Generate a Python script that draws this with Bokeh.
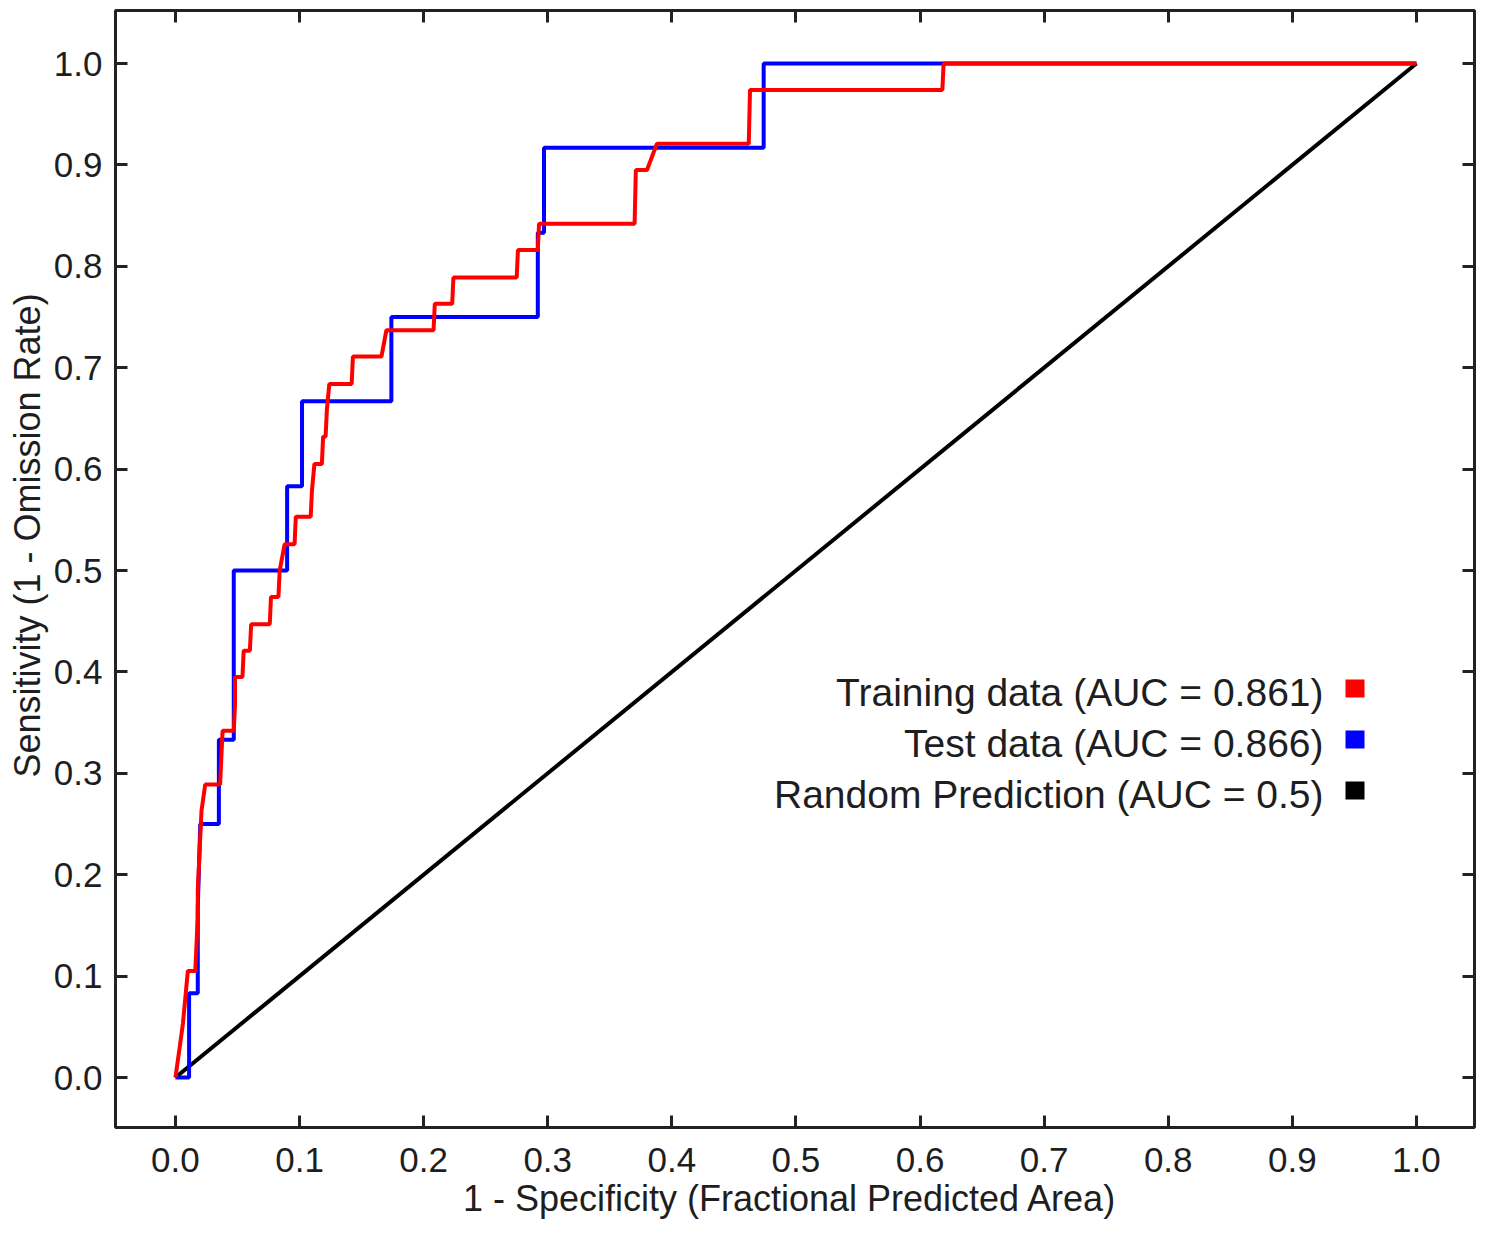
from bokeh.plotting import figure
from bokeh.models import (Range1d, FixedTicker, LinearAxis, PrintfTickFormatter,
                          Label, BoxAnnotation, Title)
from bokeh.embed import file_html
from bokeh.resources import INLINE

# ---------------- data ----------------
train_fpr = [0.000, 0.003, 0.006, 0.008, 0.010, 0.016, 0.017, 0.018, 0.018, 0.019,
             0.020, 0.021, 0.024, 0.036, 0.037, 0.038, 0.047, 0.048, 0.048, 0.054,
             0.055, 0.060, 0.061, 0.076, 0.077, 0.083, 0.084, 0.088, 0.096, 0.097,
             0.109, 0.110, 0.112, 0.118, 0.119, 0.121, 0.122, 0.124, 0.142, 0.143,
             0.166, 0.170, 0.208, 0.209, 0.223, 0.224, 0.275, 0.276, 0.292, 0.293,
             0.370, 0.371, 0.380, 0.388, 0.462, 0.463, 0.618, 0.619, 1.000]
train_tpr = [0.000, 0.026, 0.053, 0.079, 0.105, 0.105, 0.132, 0.158, 0.184, 0.211,
             0.237, 0.263, 0.289, 0.289, 0.316, 0.342, 0.342, 0.368, 0.395, 0.395,
             0.421, 0.421, 0.447, 0.447, 0.474, 0.474, 0.500, 0.526, 0.526, 0.553,
             0.553, 0.579, 0.605, 0.605, 0.632, 0.632, 0.658, 0.684, 0.684, 0.711,
             0.711, 0.737, 0.737, 0.763, 0.763, 0.789, 0.789, 0.816, 0.816, 0.842,
             0.842, 0.895, 0.895, 0.921, 0.921, 0.974, 0.974, 1.000, 1.000]

test_fpr = [0.000, 0.011, 0.011, 0.018, 0.018, 0.020, 0.035, 0.035, 0.047, 0.047,
            0.090, 0.090, 0.102, 0.102, 0.174, 0.174, 0.292, 0.292, 0.297, 0.297,
            0.474, 0.474, 1.000]
test_tpr = [0.000, 0.000, 0.083, 0.083, 0.167, 0.250, 0.250, 0.333, 0.333, 0.500,
            0.500, 0.583, 0.583, 0.667, 0.667, 0.750, 0.750, 0.833, 0.833, 0.917,
            0.917, 1.000, 1.000]

random_fpr = [0.0, 1.0]
random_tpr = [0.0, 1.0]

tick_values = [0.0, 0.1, 0.2, 0.3, 0.4, 0.5, 0.6, 0.7, 0.8, 0.9, 1.0]

legend_labels = ["Training data (AUC = 0.861)",
                 "Test data (AUC = 0.866)",
                 "Random Prediction (AUC = 0.5)"]
series_colors = ["#ff0000", "#0000ff", "#000000"]

x_label = "1 - Specificity  (Fractional Predicted Area)"
y_label = "Sensitivity  (1 - Omission Rate)"

# ---------------- figure ----------------
FONT = "Liberation Sans"
TXT = "#1e1e1e"

p = figure(width=1476, height=1224,
           x_range=Range1d(-0.0483, 1.0468), y_range=Range1d(-0.0493, 1.0523),
           output_backend="svg", toolbar_location=None,
           min_border_left=115, min_border_right=2, min_border_top=10,
           min_border_bottom=97, x_axis_type=None, y_axis_type=None)
p.background_fill_color = "white"
p.border_fill_color = "white"
p.outline_line_color = "#222222"
p.outline_line_width = 3

ticker = FixedTicker(ticks=tick_values)


def style_axis(ax, show_labels):
    ax.ticker = ticker
    ax.axis_line_color = None
    ax.major_tick_in = 12
    ax.major_tick_out = 0
    ax.major_tick_line_color = "#222222"
    ax.major_tick_line_width = 3
    ax.minor_tick_line_color = None
    if show_labels:
        ax.formatter = PrintfTickFormatter(format="%.1f")
        ax.major_label_text_font = FONT
        ax.major_label_text_font_size = "35px"
        ax.major_label_text_color = TXT
        ax.axis_label_text_font = FONT
        ax.axis_label_text_font_size = "36px"
        ax.axis_label_text_font_style = "normal"
        ax.axis_label_text_color = TXT
    else:
        # mirror axis: tick marks only, labels are not drawn
        ax.major_label_text_font_size = "1px"
        ax.major_label_text_color = None
        ax.major_label_standoff = 0
        ax.axis_label_standoff = 0


xb = LinearAxis(axis_label=x_label)
style_axis(xb, True)
xb.major_label_standoff = 20
xb.axis_label_standoff = 3
p.add_layout(xb, "below")

yl = LinearAxis()
style_axis(yl, True)
yl.major_label_standoff = 13
p.add_layout(yl, "left")

# y-axis title (side title so it can sit slightly above centre, like the original)
p.add_layout(Title(text=y_label, align="left", offset=350, standoff=6,
                   vertical_align="bottom",
                   text_font=FONT, text_font_size="36px", text_font_style="normal",
                   text_color=TXT), "left")

xt = LinearAxis()
style_axis(xt, False)
p.add_layout(xt, "above")

yr = LinearAxis()
style_axis(yr, False)
p.add_layout(yr, "right")

p.xgrid.ticker = ticker
p.ygrid.ticker = ticker
for g in (p.xgrid, p.ygrid):
    g.grid_line_color = "#c6c6c6"
    g.grid_line_width = 2.5

# ---------------- curves ----------------
p.line(random_fpr, random_tpr, line_color=series_colors[2], line_width=4)
p.line(test_fpr, test_tpr, line_color=series_colors[1], line_width=4)
p.line(train_fpr, train_tpr, line_color=series_colors[0], line_width=4)

# ---------------- legend (text right-aligned, colour swatch on the right) ----------------
p.add_layout(BoxAnnotation(left=648, right=1295, bottom=292, top=472,
                           left_units="screen", right_units="screen",
                           bottom_units="screen", top_units="screen",
                           fill_color="white", fill_alpha=1.0, line_color=None,
                           level="annotation"))
text_y0 = 435
swatch_y0 = 430
step = 51
for i, (lab, col) in enumerate(zip(legend_labels, series_colors)):
    p.add_layout(Label(x=1208, y=text_y0 - i * step, x_units="screen", y_units="screen",
                       text=lab, text_align="right", text_baseline="alphabetic",
                       text_font=FONT, text_font_size="39px", text_color=TXT))
    sb = swatch_y0 - i * step
    p.add_layout(BoxAnnotation(left=1230, right=1249, bottom=sb, top=sb + 18,
                               left_units="screen", right_units="screen",
                               bottom_units="screen", top_units="screen",
                               fill_color=col, fill_alpha=1.0, line_color=None,
                               level="annotation"))

open("out.html", "w").write(file_html(p, INLINE))
